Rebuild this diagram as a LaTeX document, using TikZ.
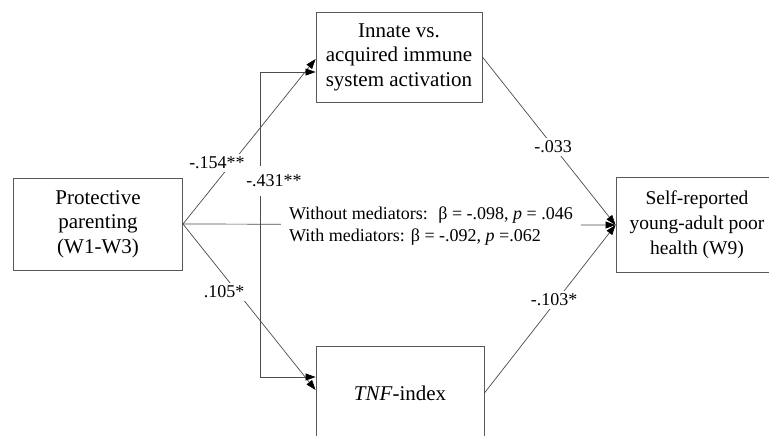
\documentclass[tikz,border=0pt]{standalone}
\usepackage{fontspec}
\setmainfont{Liberation Serif}
\usetikzlibrary{arrows.meta,calc}
\begin{document}
\begin{tikzpicture}[x=1pt,y=-1pt,
  box/.style={draw=black!65,line width=0.9pt,fill=white,align=center,inner sep=0pt,
    font=\fontsize{21}{24.5}\selectfont},
  conn/.style={draw=black!70,line width=0.7pt},
  tip/.style={-{Triangle[length=10pt,width=7pt,color=black,fill=black]}},
  dtip/.style={{Triangle[length=10pt,width=7pt,color=black,fill=black]}-{Triangle[length=10pt,width=7pt,color=black,fill=black]}},
  lab/.style={fill=white,inner sep=3pt,font=\fontsize{18}{22}\selectfont}]
\useasboundingbox (0,0) rectangle (769,436);
\fill[white] (0,0) rectangle (769,436);
\node[box,minimum width=169pt,minimum height=92pt] (pp) at (98,224) {Protective\\parenting\\(W1-W3)};
\node[box,minimum width=166pt,minimum height=90pt] (m1) at (399,57) {Innate vs.\\acquired immune\\system activation};
\node[box,minimum width=168pt,minimum height=94pt] (m2) at (400,393) {\textit{TNF}-index};
\node[box,minimum width=162pt,minimum height=95pt,font=\fontsize{19.5}{25}\selectfont] (y) at (697,225) {Self-reported\\young-adult poor\\health (W9)};
% paths
\draw[conn,tip] (pp.east) -- ([yshift=-2pt]m1.west);
\draw[conn,tip] (pp.east) -- ([yshift=3pt]m2.west);
\draw[conn,dtip] ([yshift=-15pt]m1.west) -- ++(-55,0) |- ([yshift=16pt]m2.west);
\draw[conn,tip] (m1.east) -- (y.west);
\draw[conn,tip] (m2.east) -- (y.west);
\draw[conn,tip] (pp.east) -- (y.west);
% labels
\node[lab] (l1) at (217,163) {-.154**};
\node[lab,inner ysep=9pt,inner xsep=1pt] (l2) at (274,181) {-.431**};
\node[lab] (l3) at (224,292) {.105*};
\node[lab] (l4) at (553,147) {-.033};
\node[lab] (l5) at (554,300) {-.103*};
\node[lab,align=left,inner xsep=8pt,inner ysep=6pt] (l6) at (431,226)
  {Without mediators:~ β = -.098, \textit{p} = .046\\With mediators: β = -.092, \textit{p} =.062};
\end{tikzpicture}
\end{document}
